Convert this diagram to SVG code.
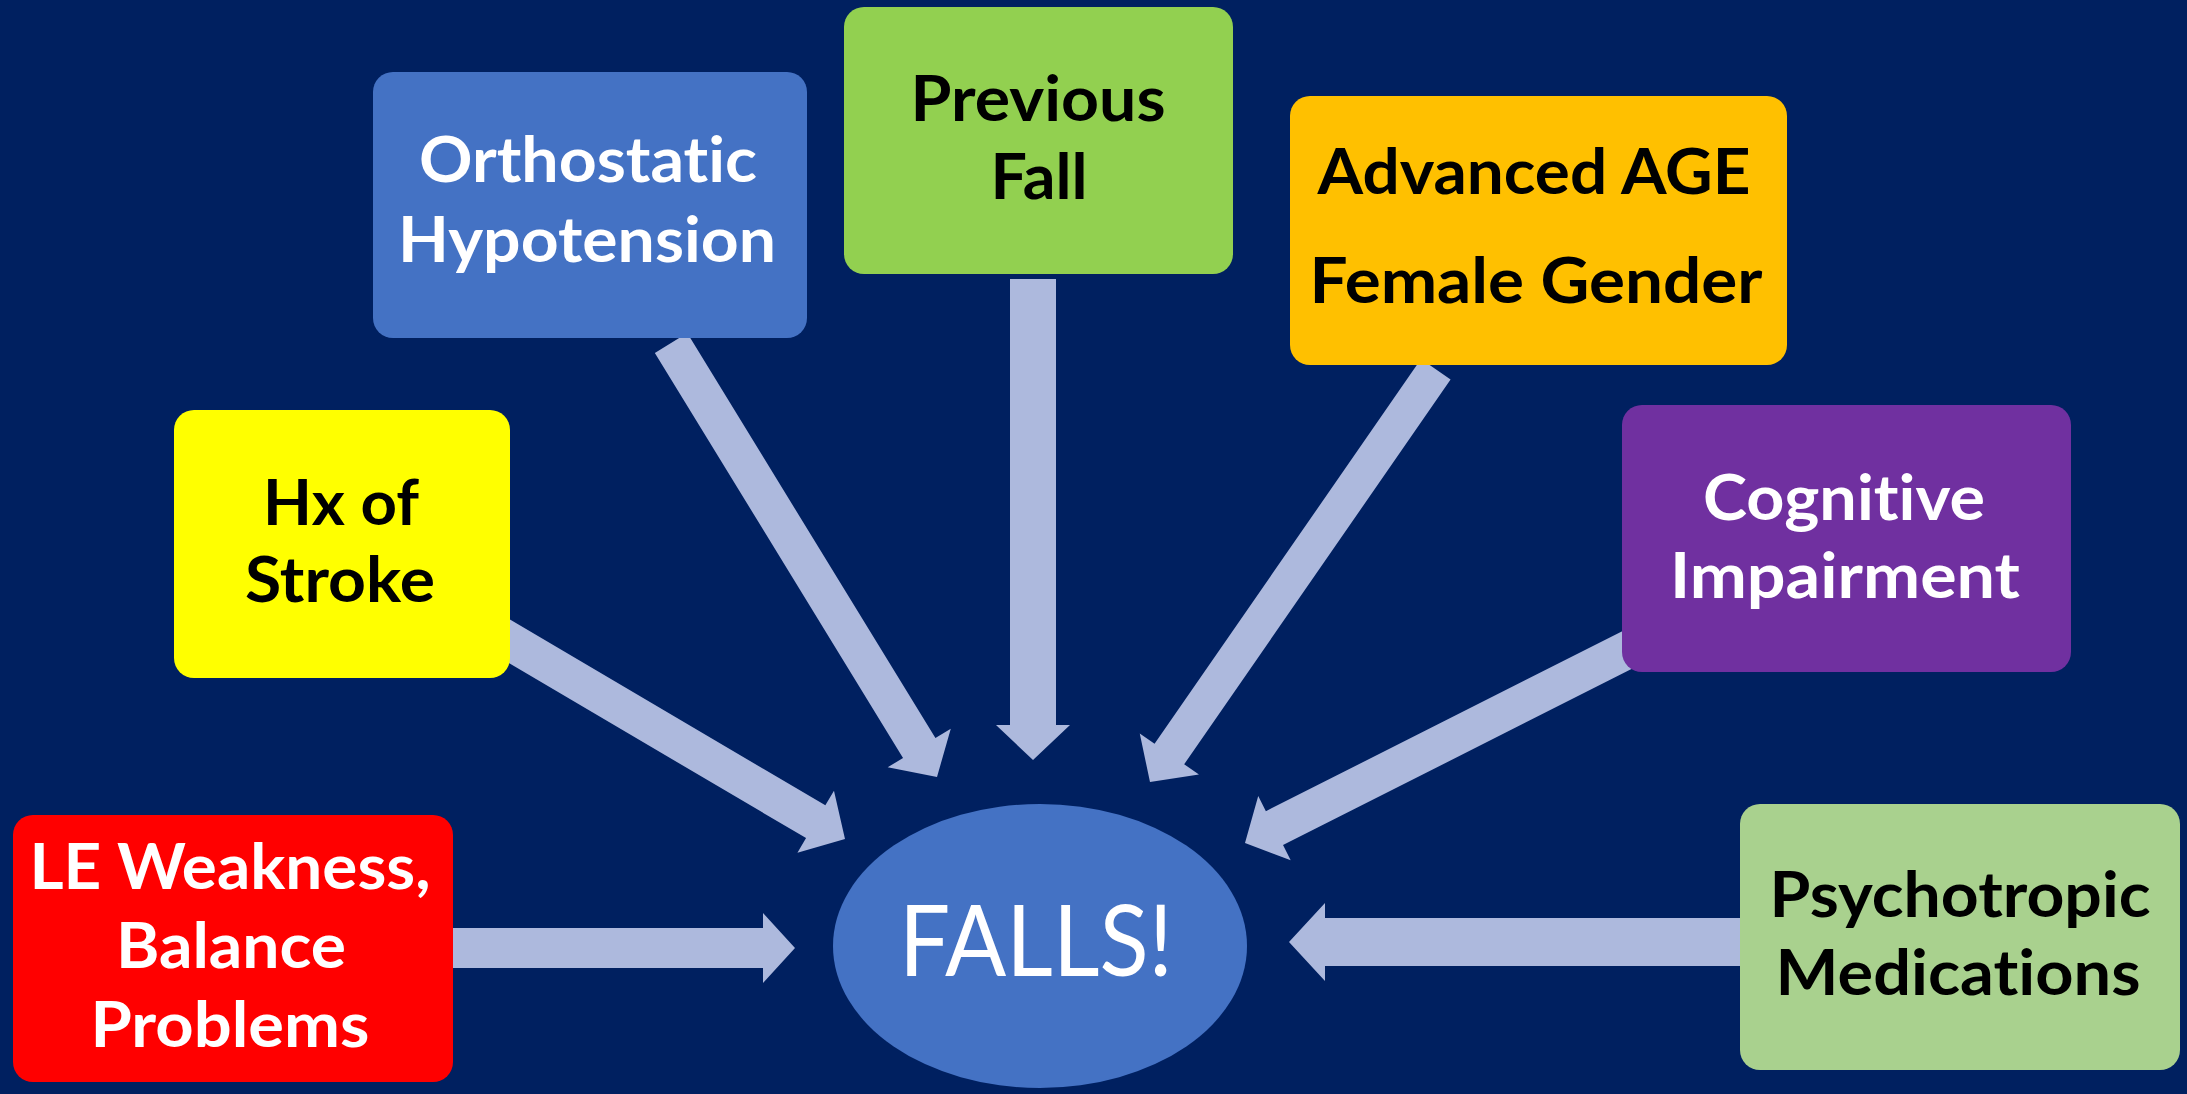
<svg xmlns="http://www.w3.org/2000/svg" width="2187" height="1094" viewBox="0 0 2187 1094">
  <style>
    .bg { fill: #002060; }
    .box { stroke: none; }
    .lbl { font-family: Lato, "Open Sans", "Liberation Sans", sans-serif; font-weight: 700; font-size: 63px; text-anchor: middle; font-variant-ligatures: none; }
    .w { fill: #FFFFFF; }
    .k { fill: #000000; }
    .arrow { fill: #ADB9DD; }
    .falls { font-family: Lato, "Open Sans", "Liberation Sans", sans-serif; font-weight: 400; font-size: 99px; text-anchor: middle; fill: #FFFFFF; font-variant-ligatures: none; }
  </style>
  <rect class="bg" x="0" y="0" width="2187" height="1094"/>

  <g id="connectors">
    <!-- LE Weakness -> FALLS -->
    <polygon class="arrow" transform="translate(795,948) rotate(0)" points="-345,-20 -32,-20 -32,-35 0,0 -32,35 -32,20 -345,20"/>
    <!-- Hx of Stroke -> FALLS -->
    <polygon class="arrow" transform="translate(845,839) rotate(30.5)" points="-400,-19 -34,-19 -34,-36 0,0 -34,36 -34,19 -400,19"/>
    <!-- Orthostatic Hypotension -> FALLS -->
    <polygon class="arrow" transform="translate(937,777) rotate(58.5)" points="-509,-19 -34,-19 -34,-37 0,0 -34,37 -34,19 -509,19"/>
    <!-- Previous Fall -> FALLS -->
    <polygon class="arrow" transform="translate(1033,760) rotate(90)" points="-481,-23 -35,-23 -35,-37 0,0 -35,37 -35,23 -481,23"/>
    <!-- Advanced AGE -> FALLS -->
    <polygon class="arrow" transform="translate(1150,782) rotate(124.7)" points="-502,-18 -34,-18 -34,-36 0,0 -34,36 -34,18 -502,18"/>
    <!-- Cognitive Impairment -> FALLS -->
    <polygon class="arrow" transform="translate(1245,843) rotate(153.2)" points="-440,-19 -33,-19 -33,-36 0,0 -33,36 -33,19 -440,19"/>
    <!-- Psychotropic Medications -> FALLS -->
    <polygon class="arrow" transform="translate(1289,942) rotate(180)" points="-460,-24 -36,-24 -36,-39 0,0 -36,39 -36,24 -460,24"/>
  </g>

  <g id="node-orthostatic">
    <rect class="box" x="373" y="72" width="434" height="266" rx="20" fill="#4472C4"/>
    <text class="lbl w" x="588" y="182" textLength="338" lengthAdjust="spacingAndGlyphs">Orthostatic</text>
    <text class="lbl w" x="587" y="262" textLength="378" lengthAdjust="spacingAndGlyphs">Hypotension</text>
  </g>

  <g id="node-previous-fall">
    <rect class="box" x="844" y="7" width="389" height="267" rx="20" fill="#92D050"/>
    <text class="lbl k" x="1038" y="121" textLength="255" lengthAdjust="spacingAndGlyphs">Previous</text>
    <text class="lbl k" x="1039" y="199" textLength="97" lengthAdjust="spacingAndGlyphs">Fall</text>
  </g>

  <g id="node-advanced-age">
    <rect class="box" x="1290" y="96" width="497" height="269" rx="20" fill="#FFC000"/>
    <text class="lbl k" x="1534" y="194" textLength="433" lengthAdjust="spacingAndGlyphs">Advanced AGE</text>
    <text class="lbl k" x="1536" y="303" textLength="453" lengthAdjust="spacingAndGlyphs">Female Gender</text>
  </g>

  <g id="node-hx-stroke">
    <rect class="box" x="174" y="410" width="336" height="268" rx="20" fill="#FFFF00"/>
    <text class="lbl k" x="341" y="525" textLength="156" lengthAdjust="spacingAndGlyphs">Hx of</text>
    <text class="lbl k" x="340" y="602" textLength="190" lengthAdjust="spacingAndGlyphs">Stroke</text>
  </g>

  <g id="node-cognitive">
    <rect class="box" x="1622" y="405" width="449" height="267" rx="20" fill="#7030A0"/>
    <text class="lbl w" x="1844" y="520" textLength="282" lengthAdjust="spacingAndGlyphs">Cognitive</text>
    <text class="lbl w" x="1845" y="598" textLength="350" lengthAdjust="spacingAndGlyphs">Impairment</text>
  </g>

  <g id="node-le-weakness">
    <rect class="box" x="13" y="815" width="440" height="267" rx="20" fill="#FF0000"/>
    <text class="lbl w" x="230" y="889" textLength="401" lengthAdjust="spacingAndGlyphs">LE Weakness,</text>
    <text class="lbl w" x="231" y="968" textLength="230" lengthAdjust="spacingAndGlyphs">Balance</text>
    <text class="lbl w" x="230" y="1047" textLength="279" lengthAdjust="spacingAndGlyphs">Problems</text>
  </g>

  <g id="node-psychotropic">
    <rect class="box" x="1740" y="804" width="440" height="266" rx="20" fill="#A9D18E"/>
    <text class="lbl k" x="1960" y="917" textLength="381" lengthAdjust="spacingAndGlyphs">Psychotropic</text>
    <text class="lbl k" x="1958" y="995" textLength="365" lengthAdjust="spacingAndGlyphs">Medications</text>
  </g>

  <g id="node-falls">
    <ellipse cx="1040" cy="946" rx="207" ry="142" fill="#4472C4"/>
    <text class="falls" x="1036" y="976" textLength="274" lengthAdjust="spacingAndGlyphs">FALLS!</text>
  </g>
</svg>
